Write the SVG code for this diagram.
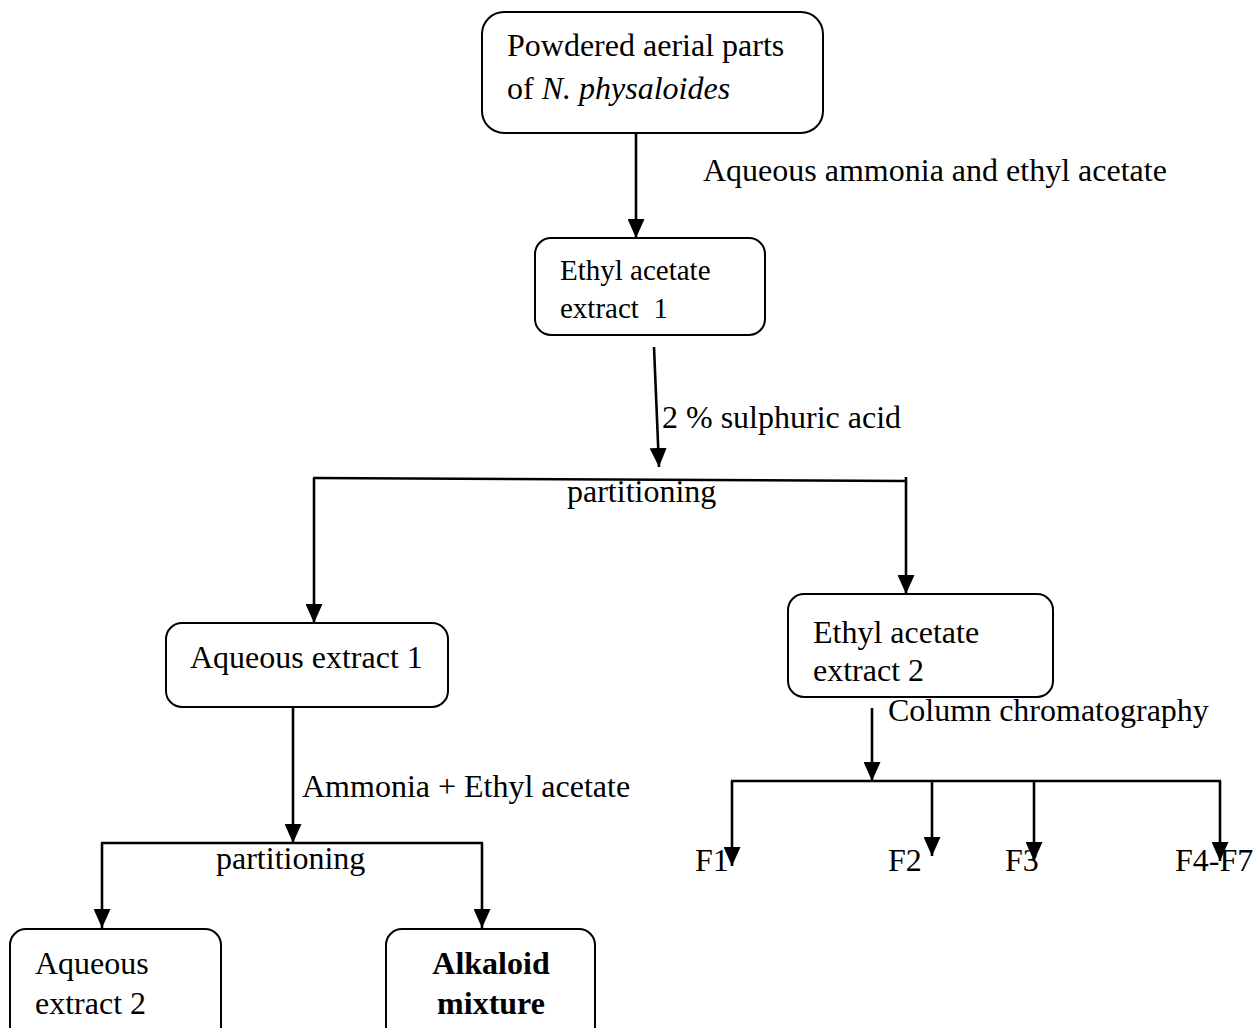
<svg xmlns="http://www.w3.org/2000/svg" width="1259" height="1028" viewBox="0 0 1259 1028">
<style>
text{font-family:"Liberation Serif","Times New Roman",serif;font-size:32px;fill:#000}
.box{fill:#fff;stroke:#000;stroke-width:2}
.ln{fill:none;stroke:#000;stroke-width:2.6}
.ar{fill:none;stroke:#000;stroke-width:2.6;marker-end:url(#ah)}
.sm{font-size:29px}
.b{font-weight:bold}
</style>
<defs>
<marker id="ah" markerUnits="userSpaceOnUse" markerWidth="19" markerHeight="17" refX="19" refY="8.5" orient="auto" viewBox="0 0 19 17">
<path d="M0,0 L19,8.5 L0,17 z" fill="#000"/>
</marker>
</defs>
<rect width="1259" height="1028" fill="#fff"/>
<g id="connectors">
<line class="ar" x1="636" y1="133" x2="636" y2="238"/>
<line class="ar" x1="654" y1="347" x2="659" y2="467"/>
<line class="ln" x1="313" y1="478" x2="907" y2="481"/>
<line class="ar" x1="314" y1="478" x2="314" y2="623"/>
<line class="ar" x1="906" y1="477" x2="906" y2="594"/>
<line class="ar" x1="293" y1="707" x2="293" y2="843"/>
<line class="ln" x1="101" y1="843" x2="483" y2="843"/>
<line class="ar" x1="102" y1="843" x2="102" y2="928"/>
<line class="ar" x1="482" y1="843" x2="482" y2="928"/>
<line class="ar" x1="872" y1="708" x2="872" y2="781"/>
<line class="ln" x1="731" y1="781" x2="1221" y2="781"/>
<line class="ar" x1="732" y1="781" x2="732" y2="866"/>
<line class="ar" x1="932" y1="781" x2="932" y2="856"/>
<line class="ar" x1="1034" y1="781" x2="1034" y2="861"/>
<line class="ar" x1="1220" y1="781" x2="1220" y2="861"/>
</g>
<g id="labels">
<text x="703" y="181">Aqueous ammonia and ethyl acetate</text>
<text x="662" y="428">2 % sulphuric acid</text>
<text x="567" y="502">partitioning</text>
<text x="302" y="797">Ammonia + Ethyl acetate</text>
<text x="216" y="869">partitioning</text>
<text x="888" y="721">Column chromatography</text>
</g>
<g id="n-powder">
<rect class="box" x="482" y="12" width="341" height="121" rx="22"/>
<text x="507" y="56">Powdered aerial parts</text>
<text x="507" y="99">of <tspan font-style="italic">N. physaloides</tspan></text>
</g>
<g id="n-ea1">
<rect class="box" x="535" y="238" width="230" height="97" rx="16"/>
<text class="sm" x="560" y="280">Ethyl acetate</text>
<text class="sm" x="560" y="318" xml:space="preserve">extract  1</text>
</g>
<g id="n-aq1">
<rect class="box" x="166" y="623" width="282" height="84" rx="16"/>
<text x="190" y="668">Aqueous extract 1</text>
</g>
<g id="n-ea2">
<rect class="box" x="788" y="594" width="265" height="103" rx="16"/>
<text x="813" y="643">Ethyl acetate</text>
<text x="813" y="681">extract 2</text>
</g>
<g id="n-aq2">
<rect class="box" x="10" y="929" width="211" height="115" rx="16"/>
<text x="35" y="974">Aqueous</text>
<text x="35" y="1014">extract 2</text>
</g>
<g id="n-alk">
<rect class="box" x="386" y="929" width="209" height="115" rx="16"/>
<text class="b" x="491" y="974" text-anchor="middle">Alkaloid</text>
<text class="b" x="491" y="1014" text-anchor="middle">mixture</text>
</g>
<g id="n-fractions">
<text x="695" y="871">F1</text>
<text x="888" y="871">F2</text>
<text x="1005" y="871">F3</text>
<text x="1175" y="871">F4-F7</text>
</g>
</svg>
